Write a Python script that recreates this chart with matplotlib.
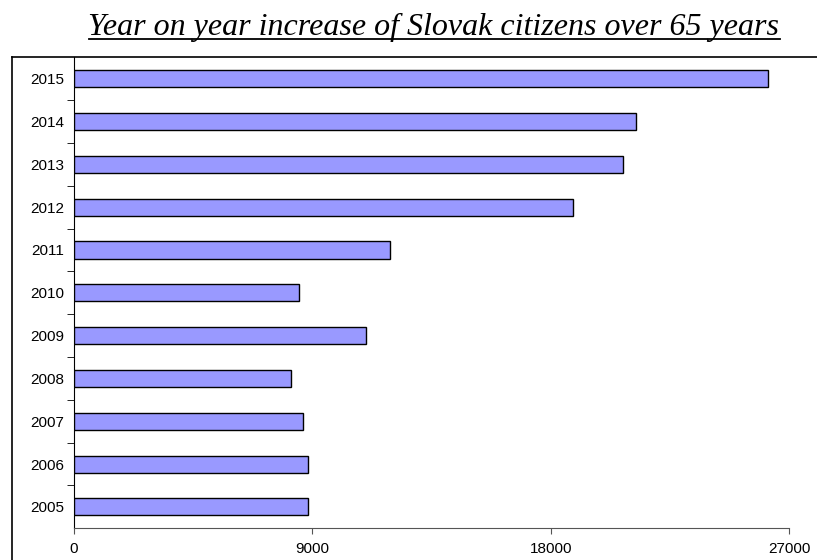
import matplotlib
matplotlib.use("Agg")
import matplotlib.pyplot as plt
from matplotlib.lines import Line2D
import numpy as np

years = ["2005", "2006", "2007", "2008", "2009", "2010", "2011", "2012", "2013", "2014", "2015"]
values = [8824, 8824, 8660, 8182, 11027, 8497, 11921, 18856, 20744, 21234, 26195]
xticks = [0, 9000, 18000, 27000]
title = "Year on year increase of Slovak citizens over 65 years"

W, H = 817, 560
fig = plt.figure(figsize=(W / 100, H / 100), dpi=100)
ax = fig.add_axes([74 / W, 1 - 528.3 / H, (789 - 74) / W, (528.3 - 57.3) / H])

y = np.arange(len(years))
ax.barh(y, values, height=0.4, color="#9999FF", edgecolor="black", linewidth=1.0, zorder=3)
ax.set_xlim(0, 27000)
ax.set_ylim(-0.5, len(years) - 0.5)
ax.set_xticks(xticks)
ax.set_xticklabels([str(t) for t in xticks], fontsize=11, family="Liberation Sans")
ax.set_yticks(y)
ax.set_yticklabels(years, fontsize=11, family="Liberation Sans")
ax.tick_params(axis="y", which="major", length=0, pad=7)
ax.set_yticks(np.arange(-0.5, len(years) - 0.5, 1.0)[1:], minor=True)
ax.tick_params(axis="y", which="minor", length=5, direction="out", color="black")
ax.tick_params(axis="x", which="major", length=4, direction="out", color="#555555", pad=6)
for s in ["top", "right"]:
    ax.spines[s].set_visible(False)
ax.spines["bottom"].set_color("#555555")
ax.spines["left"].set_color("black")

# outer chart border (partially visible)
fig.add_artist(Line2D([12 / W, 12 / W], [1 - 57.3 / H, 0], transform=fig.transFigure, color="black", lw=1.2))
fig.add_artist(Line2D([12 / W, 1], [1 - 57.3 / H, 1 - 57.3 / H], transform=fig.transFigure, color="black", lw=1.2))

t = fig.text(434 / W, 1 - 35 / H, title, ha="center", va="baseline", fontsize=23,
             family="Liberation Serif", style="italic")
fig.canvas.draw()
bb = t.get_window_extent()
uy = 1 - 38.5 / H
fig.add_artist(Line2D([bb.x0 / W, bb.x1 / W], [uy, uy], transform=fig.transFigure, color="black", lw=1.3))

fig.savefig("out.png", dpi=100)
